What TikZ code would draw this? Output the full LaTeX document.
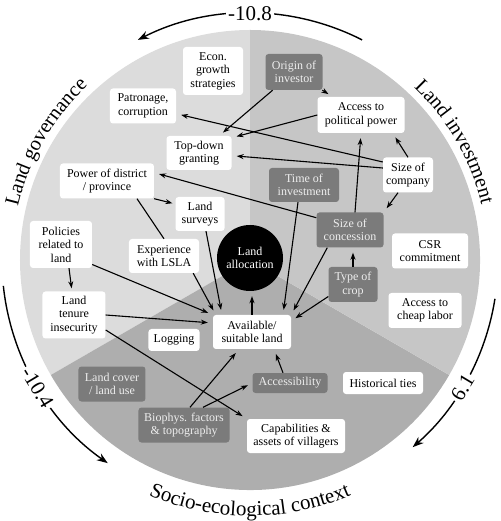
\documentclass[tikz,border=0pt]{standalone}
\usepackage{fontspec}
\setmainfont{Liberation Serif}
\usetikzlibrary{arrows.meta,decorations.text,calc}
\definecolor{govcol}{HTML}{DCDCDC}
\definecolor{invcol}{HTML}{C6C6C6}
\definecolor{soccol}{HTML}{AEAEAE}
\definecolor{darkbox}{HTML}{7B7B7B}
\definecolor{darktext}{HTML}{EEEEEE}
\begin{document}
\begin{tikzpicture}[x=1pt,y=1pt,
  wbox/.style={fill=white,rounded corners=3pt,align=center,inner sep=2pt,font=\fontsize{12}{13.4}\selectfont},
  dbox/.style={wbox,fill=darkbox,text=darktext},
  link/.style={-{Stealth[length=7pt,width=5pt]},line width=1.1pt,shorten >=5pt},
  plainlink/.style={line width=1.1pt},
  bigarrow/.style={-{Stealth[length=11pt,width=8pt]},line width=1.4pt},
  arclabel/.style={fill=white,inner sep=2pt,font=\fontsize{21}{24}\selectfont},
]
\useasboundingbox (-250,-261) rectangle (250,260);
% sectors
\fill[govcol] (0,0) -- (90:230) arc[start angle=90,end angle=210,radius=230] -- cycle;
\fill[soccol] (0,0) -- (210:230) arc[start angle=210,end angle=330,radius=230] -- cycle;
\fill[invcol] (0,0) -- (-30:230) arc[start angle=-30,end angle=90,radius=230] -- cycle;

% outer labels
\path[decorate,decoration={text along path,text align=center,text={|\fontsize{20.5}{24}\selectfont|Land governance}}]
  (195:238) arc[start angle=195,end angle=105,radius=238];
\path[decorate,decoration={text along path,text align=center,text={|\fontsize{20.5}{24}\selectfont|Land investment}}]
  (75:238) arc[start angle=75,end angle=-15,radius=238];
\path[decorate,decoration={text along path,text align=center,text={|\fontsize{21}{24}\selectfont|Socio-ecological context}}]
  (220:256) arc[start angle=220,end angle=320,radius=256];

% outer arrows
\draw[bigarrow] (63:247) arc[start angle=63,end angle=117,radius=247];
\node[arclabel] (l108) at (90:246) {-10.8};
\draw[bigarrow] (186:248) arc[start angle=186,end angle=235,radius=248];
\node[arclabel,rotate=-59] (l104) at (211:248) {-10.4};
\draw[bigarrow] (-9:248) arc[start angle=-9,end angle=-49,radius=248];
\node[arclabel,rotate=59] (l61) at (-31:248) {6.1};

% governance
\node[wbox,minimum width=60pt,minimum height=48pt] (econ) at (-37,189) {Econ.\\growth\\strategies};
\node[wbox,minimum width=66pt,minimum height=35pt] (patron) at (-107,154) {Patronage,\\corruption};
\node[wbox,minimum width=65pt,minimum height=34pt] (topdown) at (-51,107) {Top-down\\granting};
\node[wbox,minimum width=94pt,minimum height=35pt] (power) at (-143,79) {Power of district\\/ province};
\node[wbox,minimum width=49pt,minimum height=34pt] (surveys) at (-50,46) {Land\\surveys};
\node[wbox,minimum width=70pt,minimum height=34pt] (exper) at (-86,4) {Experience\\with LSLA};
\node[wbox,minimum width=62pt,minimum height=47pt] (policies) at (-189,15.5) {Policies\\related to\\land};
\node[wbox,minimum width=63pt,minimum height=47pt] (tenure) at (-176,-55) {Land\\tenure\\insecurity};
\node[wbox,minimum width=51pt,minimum height=22pt] (logging) at (-76,-80) {Logging};

% investment
\node[dbox,minimum width=57pt,minimum height=36pt] (origin) at (44,188) {Origin of\\investor};
\node[wbox,minimum width=87pt,minimum height=36pt] (access) at (111,145) {Access to\\political power};
\node[wbox,minimum width=50pt,minimum height=35pt] (sizecomp) at (158,85) {Size of\\company};
\node[dbox,minimum width=70pt,minimum height=34pt] (timeinv) at (54,75) {Time of\\investment};
\node[dbox,minimum width=67pt,minimum height=35pt] (sizeconc) at (100,30) {Size of\\concession};
\node[wbox,minimum width=76pt,minimum height=35pt] (csr) at (180,9) {CSR\\commitment};
\node[dbox,minimum width=49pt,minimum height=35pt] (crop) at (103,-24.5) {Type of\\crop};
\node[wbox,minimum width=73pt,minimum height=35pt] (cheap) at (175,-50.5) {Access to\\cheap labor};

% socio-ecological
\node[wbox,minimum width=78pt,minimum height=34pt] (avail) at (2,-72) {Available/\\suitable land};
\node[dbox,minimum width=67pt,minimum height=35pt] (landcover) at (-138,-124) {Land cover\\/ land use};
\node[dbox,minimum width=91pt,minimum height=35pt] (biophys) at (-66,-165) {Biophys. factors\\\& topography};
\node[dbox,minimum width=75pt,minimum height=20pt] (access2) at (40,-123) {Accessibility};
\node[wbox,minimum width=80pt,minimum height=22pt] (hist) at (133,-123) {Historical ties};
\node[wbox,minimum width=98pt,minimum height=34pt] (capab) at (46,-176) {Capabilities \&\\assets of villagers};

% centre
\node[circle,fill=black,text=white,minimum size=66pt,inner sep=0pt,align=center,font=\fontsize{12}{13.4}\selectfont] (alloc) at (0,2) {Land\\allocation};

% links
\draw[link] (origin) -- (access);
\draw[link] (origin) -- (topdown);
\draw[link] (access.west) -- (topdown.25);
\draw[link] ([yshift=13pt]sizecomp.west) -- (patron);
\draw[link] ([yshift=7pt]sizecomp.west) -- (topdown);
\draw[link] (sizecomp.north) -- ([xshift=-12pt]access.south east);
\draw[link] ([xshift=-10pt]sizecomp.south) -- (sizeconc.north east);
\draw[link] (sizeconc.160) -- (power.10);
\draw[link] ([xshift=5pt]sizeconc.north) -- (access.south);
\draw[link] (crop.north) -- (crop.north |- sizeconc.south);
\draw[link] ([xshift=11pt]sizeconc.south west) -- (avail.north east);
\draw[link] ([yshift=-12pt]crop.west) -- ([yshift=11pt]avail.east);
\draw[link] ([xshift=-6pt]timeinv.south) -- ([xshift=31pt]avail.north);
\draw[link] (avail.north) -- (avail.north |- alloc.south);
\draw[link] ([xshift=6pt]surveys.south) -- ([xshift=-30pt]avail.north);
\draw[link] ([xshift=-6pt]exper.south east) -- ([xshift=3pt]avail.north west);
\draw[link,shorten >=3pt] (power.south east) -- ([yshift=10pt]surveys.west);
\draw[plainlink] ([xshift=30pt]power.south) -- (exper.north);
\draw[link,shorten >=3pt] ([xshift=8pt]policies.south) -- ([xshift=-2pt]tenure.north);
\draw[link] ([yshift=-20pt]policies.east) -- (avail.north west);
\draw[link] (tenure.east) -- ([yshift=9pt]avail.west);
\draw[link] ([yshift=-15pt]tenure.east) -- (capab.north west);
\draw[link] ([xshift=6pt]biophys.north) -- ([xshift=-13pt]avail.south);
\draw[link] ([xshift=19pt]biophys.north) -- (access2.west);
\draw[link] ([xshift=-7pt]access2.north) -- ([xshift=22pt]avail.south);
\end{tikzpicture}
\end{document}
